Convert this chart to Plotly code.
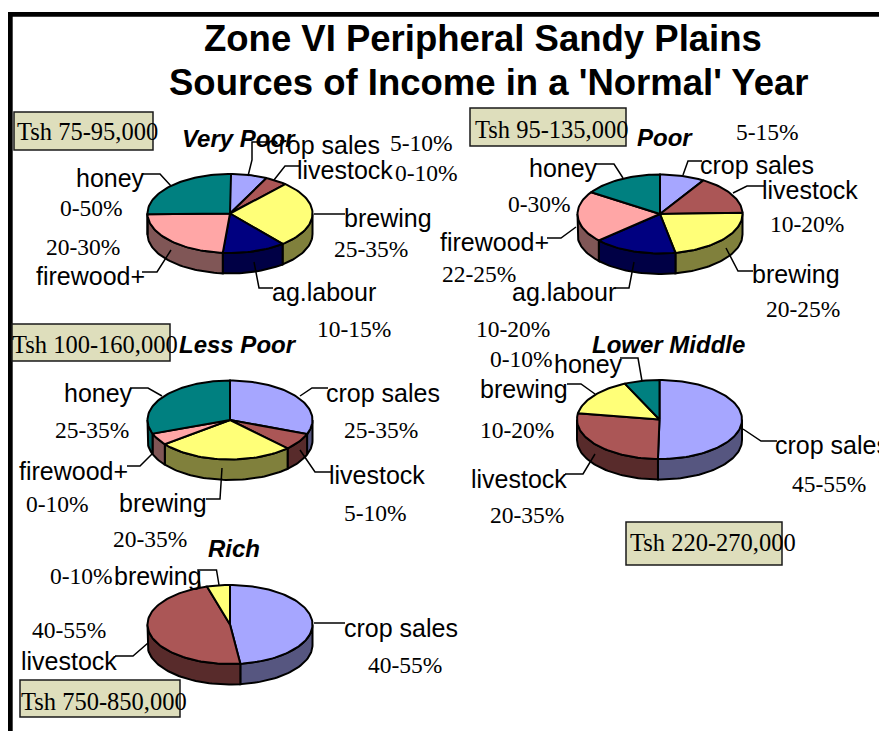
import math
import plotly.graph_objects as go

# ---------- data (shares, percent of each pie) ----------
slice_names = ["crop sales", "livestock", "brewing", "ag.labour", "firewood+", "honey"]
very_poor = [7.3, 4.4, 27.3, 12.4, 23.3, 25.5]
poor = [8.8, 15.7, 22.5, 16.3, 21.0, 15.7]
less_poor = [30.8, 6.9, 26.8, 0.0, 4.9, 30.6]
lower_middle = [50.3, 27.2, 15.6, 0.0, 0.0, 6.9]
rich = [48.0, 47.5, 4.5, 0.0, 0.0, 0.0]

face_colors = ["#A6A6FF", "#AB5656", "#FFFF78", "#000080", "#FFA6A6", "#008080"]
wall_colors = ["#565680", "#582B2B", "#80803C", "#000045", "#805656", "#005F5F"]

pies = [
    (very_poor, 230, 213.5),
    (poor, 660, 214),
    (less_poor, 230, 420),
    (lower_middle, 659.5, 419.5),
    (rich, 230, 624.5),
]
RX, RY, DEPTH = 82.5, 39.5, 20.5

SANS = "Liberation Sans"
SERIF = "Liberation Serif"

title_lines = [("Zone VI Peripheral Sandy Plains", 483, 38), ("Sources of Income in a 'Normal' Year", 488, 82)]
pie_titles = [("Very Poor", 239, 138), ("Poor", 665, 137), ("Less Poor", 238, 344), ("Lower Middle", 668, 344), ("Rich", 234, 548)]

category_labels = [
    ("crop sales", 323, 145), ("livestock", 345, 170), ("honey", 110, 178), ("brewing", 388, 218),
    ("firewood+", 90, 276), ("ag.labour", 324, 292),
    ("crop sales", 757, 165), ("livestock", 810, 190), ("honey", 563, 168), ("firewood+", 494, 242),
    ("ag.labour", 564, 292), ("brewing", 796, 274),
    ("crop sales", 383, 393), ("livestock", 377, 475), ("honey", 98, 393), ("firewood+", 73, 471), ("brewing", 163, 503),
    ("honey", 588, 364), ("brewing", 524, 389), ("livestock", 519, 479), ("crop sales", 832, 445),
    ("brewing", 158, 576), ("livestock", 69, 661), ("crop sales", 401, 628),
]
range_labels = [
    ("5-10%", 421, 143), ("0-10%", 426, 173), ("0-50%", 91, 208), ("25-35%", 371, 249), ("20-30%", 83, 247), ("10-15%", 354, 329),
    ("5-15%", 767, 132), ("10-20%", 807, 224), ("0-30%", 539, 204), ("22-25%", 479, 274), ("20-25%", 803, 309), ("10-20%", 513, 329),
    ("25-35%", 381, 430), ("5-10%", 375, 513), ("25-35%", 92, 430), ("0-10%", 57, 504), ("20-35%", 150, 539),
    ("0-10%", 521, 359), ("10-20%", 517, 430), ("20-35%", 527, 515), ("45-55%", 829, 484),
    ("0-10%", 81, 576), ("40-55%", 69, 630), ("40-55%", 405, 665),
]
income_boxes = [
    ("Tsh 75-95,000", 14, 112, 153, 150, 87, 131),
    ("Tsh 95-135,000", 470, 108, 626, 146, 551, 129),
    ("Tsh 100-160,000", 12, 324, 170, 361, 95, 344),
    ("Tsh 220-270,000", 626, 522, 782, 565, 713, 542),
    ("Tsh 750-850,000", 20, 680, 180, 717, 104, 701),
]
leaders = [
    [(248, 176), (252, 160), (252, 142), (268, 142)], [(274, 180), (285, 166), (300, 166)], [(314, 214), (345, 214)],
    [(254, 262), (259, 288), (273, 288)], [(171, 250), (157, 272), (142, 272)], [(171, 186), (160, 174), (142, 174)],
    [(683, 175), (688, 161), (702, 161)], [(733, 193), (747, 186), (764, 186)], [(726, 248), (738, 271), (753, 271)],
    [(634, 262), (629, 288), (615, 288)], [(576, 227), (561, 238), (547, 238)], [(623, 178), (614, 164), (596, 164)],
    [(300, 396), (312, 388), (328, 388)], [(300, 450), (315, 472), (332, 472)], [(222, 468), (220, 499), (206, 499)],
    [(152, 454), (140, 466), (127, 466)], [(162, 396), (148, 388), (130, 388)],
    [(743, 429), (761, 441), (777, 441)], [(595, 454), (583, 474), (565, 474)], [(595, 394), (581, 384), (567, 384)],
    [(642, 381), (638, 358), (620, 358)],
    [(314, 623), (345, 623)], [(148, 643), (133, 656), (115, 656)], [(219, 585), (216.5, 570), (198, 570), (200, 587)],
]


def arc(cx, cy, a0, a1):
    """Points on the pie ellipse; angles in degrees, clockwise from the top."""
    n = max(2, int(abs(a1 - a0) / 2) + 2)
    xs, ys = [], []
    for i in range(n):
        a = math.radians(a0 + (a1 - a0) * i / (n - 1))
        xs.append(cx + RX * math.sin(a))
        ys.append(cy - RY * math.cos(a))
    return xs, ys


fig = go.Figure()
LINE = dict(color="#000000", width=2)


def poly(xs, ys, color):
    fig.add_trace(go.Scatter(x=xs, y=ys, mode="lines", fill="toself", fillcolor=color, line=LINE, hoverinfo="skip", showlegend=False))


for shares, cx, cy in pies:
    spans, start = [], 0.0
    for s in shares:
        spans.append((start, start + s * 3.6))
        start += s * 3.6
    # side walls: only the front half of the ellipse is visible
    for (a0, a1), wc in zip(spans, wall_colors):
        lo, hi = max(a0, 90), min(a1, 270)
        if hi > lo:
            xs, ys = arc(cx, cy, lo, hi)
            poly(xs + xs[::-1] + xs[:1], ys + [y + DEPTH for y in ys[::-1]] + ys[:1], wc)
    # top faces
    for (a0, a1), fc in zip(spans, face_colors):
        if a1 > a0:
            xs, ys = arc(cx, cy, a0, a1)
            poly([cx] + xs + [cx], [cy] + ys + [cy], fc)

shapes = [
    dict(type="rect", x0=8, x1=12.7, y0=12, y1=731, fillcolor="#000000", line_width=0, layer="above"),
    dict(type="rect", x0=8, x1=879, y0=12, y1=16.7, fillcolor="#000000", line_width=0, layer="above"),
]
for pts in leaders:
    path = "M " + " L ".join(f"{x},{y}" for x, y in pts)
    shapes.append(dict(type="path", path=path, line=dict(color="#000000", width=1.5), layer="above"))
for _, x0, y0, x1, y1, _, _ in income_boxes:
    shapes.append(dict(type="rect", x0=x0, x1=x1, y0=y0, y1=y1, fillcolor="#DEDEBC", line=dict(color="#1A1A1A", width=1.5), layer="above"))

annotations = []


def note(text, x, y, family, size, bold=False, italic=False):
    t = text
    if bold:
        t = f"<b>{t}</b>"
    if italic:
        t = f"<i>{t}</i>"
    annotations.append(dict(text=t, x=x, y=y, xref="x", yref="y", xanchor="center", yanchor="middle", showarrow=False,
                            font=dict(family=family, size=size, color="#000000")))


for t, x, y in title_lines:
    note(t, x, y, SANS, 36.5, bold=True)
for t, x, y in pie_titles:
    note(t, x, y, SANS, 24, bold=True, italic=True)
for t, x, y in category_labels:
    note(t, x, y, SANS, 25)
for t, x, y in range_labels:
    note(t, x, y, SERIF, 23.5)
for t, _, _, _, _, x, y in income_boxes:
    note(t, x, y, SERIF, 24.5)

fig.update_layout(
    width=879, height=731, margin=dict(l=0, r=0, t=0, b=0),
    paper_bgcolor="#FFFFFF", plot_bgcolor="#FFFFFF", showlegend=False,
    xaxis=dict(range=[0, 879], visible=False, fixedrange=True),
    yaxis=dict(range=[731, 0], visible=False, fixedrange=True),
    shapes=shapes, annotations=annotations,
)
fig.write_html("out.html", config=dict(displayModeBar=False),
               post_script="document.body.style.margin='0';document.body.style.overflow='hidden';")
